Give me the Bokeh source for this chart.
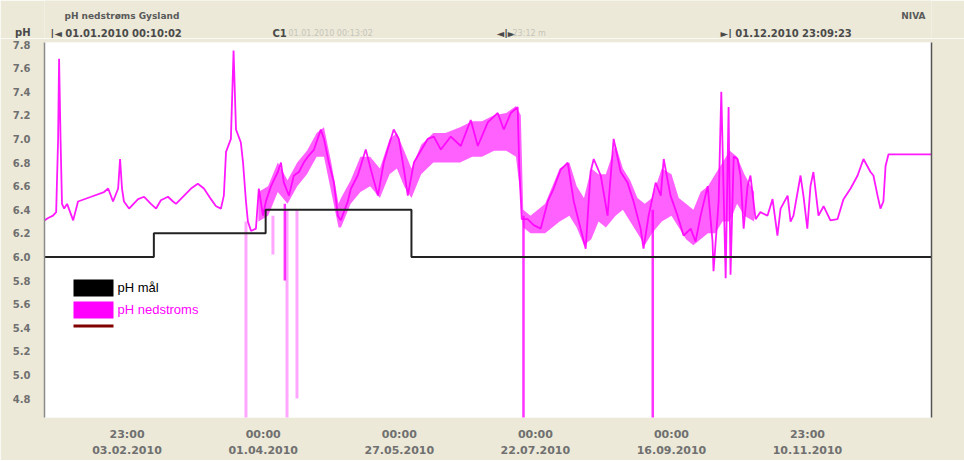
import pandas as pd
from bokeh.plotting import figure
from bokeh.layouts import column
from bokeh.models import (Range1d, FixedTicker, Label, BoxAnnotation, LinearAxis,
                          NumeralTickFormatter)
from bokeh.core.properties import value
from bokeh.embed import file_html
from bokeh.resources import INLINE

START = pd.Timestamp("2010-01-01")
END = pd.Timestamp("2011-01-01")

# pH nedstroms: days after 01.01.2010 and pH
ph_days = [0.0, 1.5, 3.5, 4.8, 5.6, 6.0, 6.6, 7.2, 8.1, 9.3,
           11.8, 13.8, 19.2, 24.5, 26.2, 28.2, 30.3, 31.1, 31.9, 32.7,
           34.8, 38.5, 41.0, 43.8, 45.9, 47.9, 50.8, 52.9, 54.1, 60.3,
           63.1, 65.6, 68.5, 70.6, 72.6, 73.8, 74.7, 76.7, 77.8, 78.8,
           80.8, 81.7, 82.9, 83.7, 85.0, 87.0, 88.2, 89.9, 91.1, 93.2,
           96.0, 97.3, 98.5, 100.6, 102.6, 104.7, 106.7, 108.4, 110.9, 113.7,
           115.0, 117.0, 119.1, 120.7, 121.9, 124.8, 126.1, 128.9, 132.2, 134.3,
           137.2, 139.6, 143.7, 145.8, 147.9, 149.5, 152.0, 157.7, 160.2, 163.1,
           167.2, 171.3, 175.4, 178.3, 182.4, 186.5, 189.0, 191.9, 194.7, 195.4,
           196.4, 198.8, 201.3, 204.2, 207.1, 209.5, 212.4, 215.3, 217.8, 220.6,
           222.7, 224.7, 226.0, 228.9, 231.7, 234.2, 237.1, 239.9, 242.4, 245.3,
           246.5, 248.6, 251.5, 253.6, 254.8, 257.6, 260.5, 263.0, 265.9, 267.9,
           270.0, 272.9, 274.9, 275.3, 277.4, 278.5, 279.4, 280.3, 281.5, 282.3,
           283.6, 285.2, 286.4, 287.7, 289.3, 290.5, 292.6, 294.6, 297.5, 299.6,
           301.6, 302.9, 305.8, 307.0, 308.2, 311.1, 312.3, 313.9, 315.2, 316.4,
           318.5, 320.6, 323.4, 326.3, 328.8, 331.7, 334.6, 337.0, 339.9, 341.1,
           342.8, 344.0, 345.2, 346.1, 347.3, 365.0]
ph_vals = [6.31, 6.33, 6.35, 6.38, 7.0, 7.68, 7.0, 6.45, 6.41, 6.45,
           6.31, 6.47, 6.51, 6.55, 6.58, 6.47, 6.58, 6.83, 6.58, 6.47,
           6.41, 6.49, 6.51, 6.45, 6.41, 6.48, 6.51, 6.47, 6.45, 6.58,
           6.62, 6.58, 6.49, 6.43, 6.41, 6.52, 6.89, 7.0, 7.75, 7.08,
           6.97, 6.8, 6.47, 6.3, 6.22, 6.24, 6.58, 6.35, 6.47, 6.6,
           6.72, 6.8, 6.63, 6.52, 6.69, 6.72, 6.8, 6.85, 6.91, 7.08,
           7.0, 6.8, 6.63, 6.35, 6.31, 6.47, 6.58, 6.69, 6.91, 6.74,
           6.52, 6.8, 7.08, 7.0, 6.74, 6.52, 6.8, 7.0, 7.02, 6.91,
           7.02, 6.94, 7.16, 6.94, 7.14, 7.22, 7.08, 7.22, 7.27, 6.74,
           6.32, 6.32, 6.27, 6.24, 6.47, 6.58, 6.74, 6.8, 6.47, 6.24,
           6.07, 6.72, 6.83, 6.69, 6.35, 7.0, 6.72, 6.63, 6.47, 6.24,
           6.07, 6.35, 6.63, 6.52, 6.83, 6.52, 6.35, 6.18, 6.24, 6.13,
           6.35, 6.6, 6.13, 5.88, 6.47, 7.4, 6.6, 5.82, 7.27, 5.85,
           6.85, 6.83, 6.69, 6.24, 6.6, 6.69, 6.32, 6.38, 6.35, 6.49,
           6.18, 6.41, 6.52, 6.3, 6.35, 6.69, 6.52, 6.24, 6.6, 6.72,
           6.35, 6.43, 6.31, 6.32, 6.49, 6.58, 6.69, 6.83, 6.72, 6.69,
           6.52, 6.41, 6.47, 6.77, 6.87, 6.87]

# envelope of the dense, noisy part of the record
band_days = [88, 92, 96, 100, 104, 108, 112, 115, 118, 121,
             122, 126, 130, 134, 138, 142, 145, 148, 151, 155,
             160, 165, 171, 176, 180, 185, 190, 194, 196, 197,
             200, 206, 212, 216, 219, 222, 225, 228, 231, 235,
             238, 241, 244, 247, 250, 254, 258, 261, 264, 267,
             270, 273, 276, 279, 282, 285, 288, 292]
band_lo = [6.30, 6.35, 6.55, 6.45, 6.60, 6.70, 6.85, 6.85, 6.55, 6.25,
           6.25, 6.45, 6.55, 6.60, 6.50, 6.70, 6.75, 6.60, 6.50, 6.70,
           6.80, 6.80, 6.80, 6.85, 6.85, 6.90, 6.90, 6.85, 6.50, 6.25,
           6.20, 6.20, 6.30, 6.35, 6.25, 6.10, 6.15, 6.30, 6.25, 6.35,
           6.40, 6.30, 6.20, 6.10, 6.20, 6.30, 6.35, 6.25, 6.15, 6.10,
           6.15, 6.20, 6.20, 6.30, 6.30, 6.45, 6.35, 6.30]
band_hi = [6.55, 6.60, 6.80, 6.65, 6.80, 6.90, 7.05, 7.10, 6.80, 6.45,
           6.50, 6.65, 6.85, 6.85, 6.75, 7.00, 7.05, 6.90, 6.75, 6.95,
           7.05, 7.05, 7.10, 7.15, 7.15, 7.20, 7.22, 7.28, 7.20, 6.40,
           6.35, 6.45, 6.75, 6.80, 6.60, 6.50, 6.75, 6.70, 6.70, 6.95,
           6.75, 6.65, 6.50, 6.45, 6.50, 6.75, 6.70, 6.50, 6.45, 6.40,
           6.55, 6.60, 6.70, 6.80, 6.90, 6.85, 6.70, 6.55]

# sharp drops of the sensor signal
drop_days = [197.1, 250.3, 98.9]
drop_top = [6.35, 6.40, 6.45]
drop_bottom = [4.60, 4.60, 5.80]
faint_days = [82.9, 99.8, 103.9, 94.0]
faint_top = [6.30, 6.40, 6.40, 6.35]
faint_bottom = [4.60, 4.62, 4.80, 6.02]

# pH mål (target)
target_dates = ["2010-01-01", "2010-02-15", "2010-04-02", "2010-06-01", "2011-01-01"]
target_vals = [6.0, 6.2, 6.4, 6.0, 6.0]

tick_dates = ["2010-02-03 23:00", "2010-04-01 00:00", "2010-05-27 00:00",
              "2010-07-22 00:00", "2010-09-16 00:00", "2010-11-10 23:00"]
tick_labels = ["23:00\n03.02.2010", "00:00\n01.04.2010", "00:00\n27.05.2010",
               "00:00\n22.07.2010", "00:00\n16.09.2010", "23:00\n10.11.2010"]
y_ticks = [4.8, 5.0, 5.2, 5.4, 5.6, 5.8, 6.0, 6.2, 6.4, 6.6, 6.8, 7.0, 7.2, 7.4, 7.6, 7.8]

# header texts
head_dark = ["pH nedstrøms Gysland", "NIVA"]
head_row = ["|◄ 01.01.2010 00:10:02", "C1", "◄|►", "►| 01.12.2010 23:09:23"]
head_grey = ["01.01.2010 00:13:02", "23:12 m"]
head_unit = "pH"


def to_dt(days):
    return START + pd.to_timedelta(days, unit="D")


def to_ms(t):
    return int((pd.Timestamp(t) - pd.Timestamp("1970-01-01")) // pd.Timedelta(milliseconds=1))


BEIGE = "#ECE9D8"
MAG = "#ff00ff"
W = 964
FL, FR = 44, 931          # frame edges in page pixels (frames of both figures align)

# ---- header strip (its frame is aligned with the chart frame) ----
h = figure(width=W, height=38, x_range=Range1d(FL, FR), y_range=Range1d(38, 0),
           output_backend="svg", toolbar_location=None,
           min_border_left=FL, min_border_right=W - FR, min_border_top=0, min_border_bottom=0,
           x_axis_location=None,
           background_fill_color=BEIGE, border_fill_color=BEIGE, outline_line_color=None)
h.xgrid.visible = False
h.ygrid.visible = False
hy = h.yaxis[0]
hy.ticker = FixedTicker(ticks=[33])
hy.major_label_overrides = {33: head_unit}
hy.axis_line_color = None
hy.major_tick_line_color = None
hy.minor_tick_line_color = None
hy.major_tick_out = 0
hy.major_label_standoff = 14
hy.major_label_text_font = "DejaVu Sans"
hy.major_label_text_font_style = "bold"
hy.major_label_text_font_size = "10px"
hy.major_label_text_color = "#4a4a4a"

h.text(x=[64, 925], y=[15, 15], text=head_dark, text_align=["left", "right"],
       text_baseline="middle", text_font=value("DejaVu Sans"), text_font_style="bold",
       text_font_size="9px", text_color="#5a5a5a")
h.text(x=[50, 272, 496, 720], y=[33] * 4, text=head_row, text_baseline="middle",
       text_font=value("DejaVu Sans"), text_font_style="bold", text_font_size="10px",
       text_color="#4a4a4a")
h.text(x=[288, 512], y=[33, 33], text=head_grey, text_baseline="middle",
       text_font=value("DejaVu Sans"), text_font_size="8px", text_color="#c6c4b8")

# ---- main chart ----
p = figure(width=W, height=422, x_axis_type="datetime",
           x_range=Range1d(START, END), y_range=Range1d(4.64, 7.817),
           output_backend="svg", toolbar_location=None,
           min_border_left=FL, min_border_right=W - FR, min_border_top=4, min_border_bottom=39,
           background_fill_color="white", border_fill_color=BEIGE, outline_line_color=None)
p.xgrid.visible = False
p.ygrid.visible = False

p.varea(x=to_dt(band_days), y1=band_lo, y2=band_hi, fill_color=MAG, fill_alpha=0.62)
p.segment(x0=to_dt(faint_days), y0=faint_top, x1=to_dt(faint_days), y1=faint_bottom,
          line_color=MAG, line_alpha=0.35, line_width=3)
p.segment(x0=to_dt(drop_days), y0=drop_top, x1=to_dt(drop_days), y1=drop_bottom,
          line_color=MAG, line_alpha=0.8, line_width=2.5)
p.line(to_dt(ph_days), ph_vals, line_color=MAG, line_width=1.8, line_alpha=0.9)
p.step(pd.to_datetime(target_dates), target_vals, mode="after", line_color="#222222", line_width=2)

tick_ms = [to_ms(t) for t in tick_dates]
xa = p.xaxis[0]
xa.ticker = FixedTicker(ticks=tick_ms)
xa.major_label_overrides = dict(zip(tick_ms, tick_labels))
xa.axis_line_color = None
xa.major_tick_line_color = None
xa.minor_tick_line_color = None
xa.major_tick_out = 0
xa.major_label_standoff = 10
xa.major_label_text_font = "DejaVu Sans"
xa.major_label_text_font_style = "bold"
xa.major_label_text_font_size = "11px"
xa.major_label_text_color = "#707070"
xa.major_label_text_line_height = 1.3

ya = p.yaxis[0]
ya.ticker = FixedTicker(ticks=y_ticks)
ya.formatter = NumeralTickFormatter(format="0.0")
ya.axis_line_color = "#8a8a8a"
ya.axis_line_width = 1.5
ya.major_tick_line_color = None
ya.minor_tick_line_color = None
ya.major_tick_out = 0
ya.major_label_standoff = 14
ya.major_label_text_font = "DejaVu Sans"
ya.major_label_text_font_style = "bold"
ya.major_label_text_font_size = "10px"
ya.major_label_text_color = "#707070"

ra = LinearAxis(ticker=FixedTicker(ticks=[]), axis_line_color="#555555", axis_line_width=1.5,
                major_tick_line_color=None, minor_tick_line_color=None)
p.add_layout(ra, "right")

# legend (screen units relative to the plot frame)
def box(top, bottom, color):
    p.add_layout(BoxAnnotation(left=29, right=69, top=top, bottom=bottom,
                               left_units="screen", right_units="screen",
                               top_units="screen", bottom_units="screen",
                               fill_color=color, fill_alpha=1, line_alpha=0))

box(138, 121, "#000000")
box(116, 99, MAG)
box(93, 90, "#800000")
p.add_layout(Label(x=73, y=130, x_units="screen", y_units="screen", text="pH mål",
                   text_font="Liberation Sans", text_font_size="13px", text_color="#000000",
                   text_baseline="middle"))
p.add_layout(Label(x=73, y=108, x_units="screen", y_units="screen", text="pH nedstroms",
                   text_font="Liberation Sans", text_font_size="13px", text_color=MAG,
                   text_baseline="middle"))

open("out.html", "w").write(file_html(column(h, p), INLINE))
